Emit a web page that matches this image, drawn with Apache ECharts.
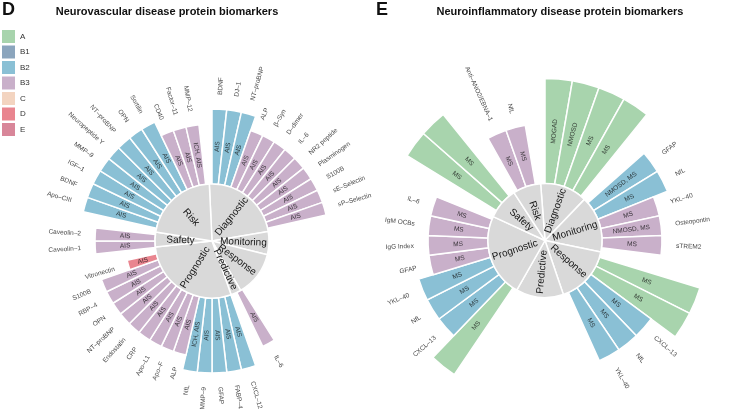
<!DOCTYPE html>
<html><head><meta charset="utf-8">
<script src="https://cdn.jsdelivr.net/npm/echarts@6/dist/echarts.min.js"></script>
<style>html,body{margin:0;padding:0;background:#fff}#c{width:745px;height:409px}</style>
</head><body><div id="c"></div>
<script>
// evidence classes (legend) and bar height level of each class
const classes = ['A','B1','B2','B3','C','D','E'];
const classColors = ['#a8d4ad','#8ba5bd','#8ac0d5','#c9b0ca','#f3d4c0','#e9858f','#d88699'];
const classLevel = {A:7, B1:6, B2:5, B3:4, C:3, D:2, E:1};

// ---------- Panel D: Neurovascular (clockwise from 12 o'clock, '' = empty slot)
const dNames = ['BDNF','DJ–1','NT–proBNP','ALP','β–Syn','D–dimer','IL–6','NR2 peptide','Plasminogen','S100B','sE–Selectin','sP–Selectin',
  '','','','','','','','','','','',
  'IL–6','',
  'CXCL–12','FABP–4','GFAP','MMP–9','NfL','ALP','Apo–F','Apo–L1','CRP','Endostatin','NT–proBNP','OPN','RBP–4','S100B','Vitronectin','',
  'Caveolin–1','Caveolin–2','',
  'Apo–CIII','BDNF','IGF–1','MMP–9','Neuropeptide Y','NT–proBNP','OPN','Sortilin','CD40','Factor–11','MMP–12',''];
const dClass = ['B2','B2','B2','B3','B3','B3','B3','B3','B3','B3','B3','B3',
  '','','','','','','','','','','',
  'B3','',
  'B2','B2','B2','B2','B2','B3','B3','B3','B3','B3','B3','B3','B3','B3','D','',
  'B3','B3','',
  'B2','B2','B2','B2','B2','B2','B2','B2','B3','B3','B3',''];
const dDisease = ['AIS','AIS','AIS','AIS','AIS','AIS','AIS','AIS','AIS','AIS','AIS','AIS',
  '','','','','','','','','','','',
  'AIS','',
  'AIS','AIS','AIS','AIS','ICH, AIS','AIS','AIS','AIS','AIS','AIS','AIS','AIS','AIS','AIS','AIS','',
  'AIS','AIS','',
  'AIS','AIS','AIS','AIS','AIS','AIS','AIS','AIS','AIS','AIS','ICH, AIS',''];
const dSectors = ['Diagnostic','Monitoring','Response','Predictive','Prognostic','Safety','Risk'];
const dSectorSize = [83, 23.5, 46, 10.5, 103.5, 15.2, 78.1];

// ---------- Panel E: Neuroinflammatory
const eNames = ['Anti–MOG–Abs','Anti–AQP4–Abs','IgG Index','IgG OCBs','',
  'GFAP','NfL','YKL–40','Osteopontin','sTREM2','',
  'NAbs to IFNβ','NAbs to natalizumab','CXCL–13','NfL','YKL–40',
  '','','','','','',
  'IgG OCBs','CXCL–13','NfL','YKL–40','GFAP','IgG Index','IgM OCBs','IL–6','',
  'Anti–JC–Abs','Anti–VZV–Abs','',
  'Anti–ANO2/EBNA–1','NfL',''];
const eClass = ['A','A','A','A','',
  'B2','B2','B3','B3','B3','',
  'A','A','B2','B2','B2',
  '','','','','','',
  'A','B2','B2','B2','B3','B3','B3','B3','',
  'A','A','',
  'B3','B3',''];
const eDisease = ['MOGAD','NMOSD','MS','MS','',
  'NMOSD, MS','MS','MS','NMOSD, MS','MS','',
  'MS','MS','MS','MS','MS',
  '','','','','','',
  'MS','MS','MS','MS','MS','MS','MS','MS','',
  'MS','MS','',
  'MS','MS',''];
const eSectors = ['Diagnostic','Monitoring','Response','Predictive','Prognostic','Safety','Risk'];
const eSectorSize = [48.2, 57.8, 59.6, 48.5, 85, 32.3, 28.6];

const panels = [
  {names:dNames, cls:dClass, dis:dDisease, sec:dSectors, secSize:dSectorSize, center:[212,241], start:92.7},
  {names:eNames, cls:eClass, dis:eDisease, sec:eSectors, secSize:eSectorSize, center:[545,240.5], start:94.4}
];
const R0 = 57, R1 = 162;
const FONT = '"Liberation Sans", Arial, sans-serif';

const polar = [], angleAxis = [], radiusAxis = [], series = [];
panels.forEach((p, pi) => {
  const N = p.names.length;
  polar.push({center: p.center, radius: [R0, R1]});
  angleAxis.push({polarIndex: pi, type:'category', data: p.names.map((_, i) => String(i)), startAngle: 90, clockwise: true,
    boundaryGap: true, axisLine:{show:false}, axisTick:{show:false}, axisLabel:{show:false}, splitLine:{show:false}});
  radiusAxis.push({polarIndex: pi, type:'value', min: 0, max: 7, axisLine:{show:false}, axisTick:{show:false}, axisLabel:{show:false}, splitLine:{show:false}});
  classes.forEach((c, ci) => {
    series.push({type:'bar', name:c, coordinateSystem:'polar', polarIndex: pi, stack:'s'+pi, barCategoryGap:'0%', silent:true,
      itemStyle:{color: classColors[ci], borderColor:'#fff', borderWidth:1.5},
      data: p.cls.map(k => k === c ? classLevel[k] : '-')});
  });
  series.push({type:'pie', center: p.center, radius:[0, R0], startAngle: p.start, clockwise:true, silent:true, z:5,
    avoidLabelOverlap:false, minShowLabelAngle:0,
    itemStyle:{color:'#d9d9d9', borderColor:'#fff', borderWidth:1.5},
    label:{show:true, position:'inside', rotate:'radial', fontSize:10, color:'#151515', fontFamily: FONT, overflow:'none'},
    labelLayout:{hideOverlap:false},
    labelLine:{show:false},
    data: p.sec.map((s, i) => ({name:s, value:p.secSize[i]}))});
  const outer = [], inner = [];
  p.cls.forEach((c, i) => {
    if (!c) return;
    const theta = (i + 0.5) * 360 / N;
    const right = theta < 180;
    const rot = right ? 90 - theta : 270 - theta;
    outer.push({name: p.names[i], value:[classLevel[c] + 0.95, i], label:{rotate: rot, align: right ? 'left' : 'right'}});
    inner.push({name: p.dis[i], value:[classLevel[c] / 2, i], label:{rotate: rot, align:'center'}});
  });
  [outer, inner].forEach(d => series.push({type:'scatter', coordinateSystem:'polar', polarIndex: pi, symbolSize:0.01, silent:true, z:10,
    itemStyle:{color:'rgba(0,0,0,0)'},
    labelLayout:{hideOverlap:false},
    label:{show:true, position:'inside', formatter:'{b}', fontSize:6.5, color:'#111', fontFamily: FONT, verticalAlign:'middle'},
    data: d}));
});

const chart = echarts.init(document.getElementById('c'), null, {renderer:'canvas'});
chart.setOption({
  animation:false,
  backgroundColor:'#fff',
  polar, angleAxis, radiusAxis, series,
  legend:{data: classes, orient:'vertical', left:2, top:30, padding:0, itemWidth:13, itemHeight:13, itemGap:2.5, icon:'rect',
    itemStyle:{borderWidth:0},
    textStyle:{fontSize:8, color:'#333', fontFamily: FONT}, selectedMode:false},
  graphic:{elements:[
    {type:'text', x:2, y:1, style:{text:'D', font:'bold 18px ' + FONT, fill:'#111'}},
    {type:'text', x:376, y:1, style:{text:'E', font:'bold 18px ' + FONT, fill:'#111'}},
    {type:'text', x:167, y:12, style:{text:'Neurovascular disease protein biomarkers', font:'bold 11px ' + FONT, fill:'#111', textAlign:'center', textVerticalAlign:'middle'}},
    {type:'text', x:560, y:12, style:{text:'Neuroinflammatory disease protein biomarkers', font:'bold 11px ' + FONT, fill:'#111', textAlign:'center', textVerticalAlign:'middle'}}
  ]}
});
</script></body></html>
